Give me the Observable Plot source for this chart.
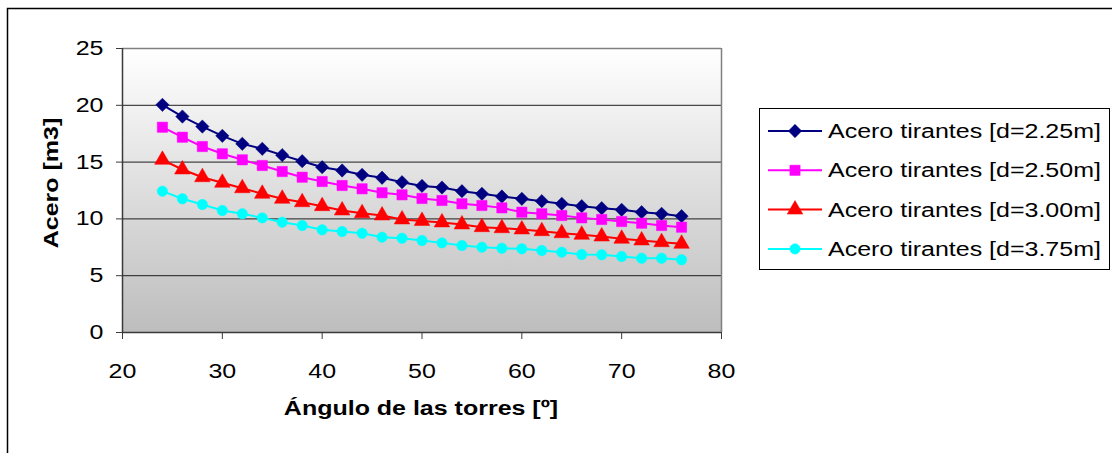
<!DOCTYPE html>
<html>
<head>
<meta charset="utf-8">
<script src="https://cdn.jsdelivr.net/npm/d3@7"></script>
<script src="https://cdn.jsdelivr.net/npm/@observablehq/plot@0.6"></script>
<style>
  body { margin: 0; background: #fff; }
  #chart svg { display: block; }
</style>
</head>
<body>
<div id="chart"></div>
<script>
// Tower angle (degrees) on the x axis
const angles = [24, 26, 28, 30, 32, 34, 36, 38, 40, 42, 44, 46, 48, 50,
                52, 54, 56, 58, 60, 62, 64, 66, 68, 70, 72, 74, 76];

// Stay-cable steel volume [m3] for each deck spacing d
const steelD225 = [20.04, 19.01, 18.13, 17.31, 16.61, 16.17, 15.61, 15.08, 14.55, 14.26, 13.88, 13.62, 13.23, 12.90,
                   12.76, 12.44, 12.21, 11.97, 11.77, 11.56, 11.33, 11.12, 10.94, 10.80, 10.59, 10.45, 10.24];
const steelD250 = [18.07, 17.19, 16.37, 15.73, 15.20, 14.70, 14.17, 13.67, 13.29, 12.94, 12.65, 12.30, 12.12, 11.80,
                   11.62, 11.33, 11.18, 10.97, 10.59, 10.45, 10.30, 10.09, 9.95, 9.77, 9.62, 9.42, 9.27];
const steelD300 = [15.20, 14.35, 13.67, 13.18, 12.70, 12.21, 11.77, 11.47, 11.12, 10.74, 10.50, 10.30, 9.95, 9.82,
                   9.69, 9.51, 9.27, 9.18, 9.07, 8.92, 8.74, 8.60, 8.45, 8.25, 8.10, 7.95, 7.81];
const steelD375 = [12.44, 11.77, 11.27, 10.74, 10.45, 10.09, 9.71, 9.42, 9.04, 8.89, 8.74, 8.39, 8.30, 8.10,
                   7.89, 7.66, 7.51, 7.42, 7.37, 7.22, 7.07, 6.87, 6.84, 6.69, 6.54, 6.54, 6.40];

const seriesNames = ["Acero tirantes [d=2.25m]", "Acero tirantes [d=2.50m]",
                     "Acero tirantes [d=3.00m]", "Acero tirantes [d=3.75m]"];
const seriesValues = [steelD225, steelD250, steelD300, steelD375];

const xTicks = [20, 30, 40, 50, 60, 70, 80];
const yTicks = [0, 5, 10, 15, 20, 25];
const gridY = [5, 10, 15, 20];

const xTitle = "Ángulo de las torres [º]";
const yTitle = "Acero [m3]";

// Styling for each series
const colors = ["#000080", "#ff00ff", "#ff0000", "#00ffff"];
const symbols = ["diamond2", "square", "triangle", "circle"];
const symbolR = [6, 5.8, 5.8, 5.2];
const d3Symbols = {diamond2: d3.symbolDiamond2, square: d3.symbolSquare, triangle: d3.symbolTriangle, circle: d3.symbolCircle};

// Long-format table built from the arrays above
const rows = seriesNames.flatMap((name, i) =>
  angles.map((a, j) => ({series: name, angle: a, steel: seriesValues[i][j]})));

const FONT = "'Liberation Sans', Arial, sans-serif";
const STRETCH = 1.25;

const seriesMarks = seriesNames.flatMap((name, i) => {
  const data = rows.filter(d => d.series === name);
  return [
    Plot.line(data, {x: "angle", y: "steel", stroke: colors[i], strokeWidth: 2}),
    Plot.dot(data, {x: "angle", y: "steel", symbol: symbols[i], r: symbolR[i],
                    fill: colors[i], stroke: colors[i], strokeWidth: 0.5})
  ];
});

const chart = Plot.plot({
  width: 1112,
  height: 453,
  marginLeft: 122,
  marginRight: 391,
  marginTop: 48,
  marginBottom: 121,
  style: {fontFamily: FONT, fontSize: "20px", color: "#000", background: "#fff", overflow: "visible"},
  x: {domain: [20, 80], label: null},
  y: {domain: [0, 25], label: null},
  marks: [
    Plot.frame({fill: "url(#plotBg)", stroke: null}),
    Plot.ruleY(gridY, {stroke: "#1e1e1e", strokeWidth: 1}),
    Plot.ruleY([25], {stroke: "#808080", strokeWidth: 1.5}),
    Plot.ruleX([80], {stroke: "#808080", strokeWidth: 1.5}),
    Plot.axisX({ticks: xTicks, tickSize: 7, tickPadding: 24, stroke: "#3a3a3a", fill: "#000", label: null, tickFormat: d => `${d}`}),
    Plot.axisY({ticks: yTicks, tickSize: 6, tickPadding: 13, stroke: "#3a3a3a", fill: "#000", label: null, tickFormat: d => `${d}`}),
    Plot.ruleX([20], {stroke: "#3a3a3a", strokeWidth: 1.5}),
    Plot.ruleY([0], {stroke: "#3a3a3a", strokeWidth: 1.5}),
    ...seriesMarks
  ]
});

document.getElementById("chart").appendChild(chart);
const svg = d3.select(chart);

// Widen the tick label glyphs horizontally
svg.selectAll("text").each(function () {
  const t = d3.select(this);
  let tr = t.attr("transform") || "";
  const x = t.attr("x");
  if (x != null && !String(x).includes("em")) { tr += ` translate(${x},0)`; t.attr("x", null); }
  t.attr("transform", `${tr} scale(${STRETCH},1)`);
});

// Vertical gradient for the plotting area
const grad = svg.insert("defs", ":first-child").append("linearGradient")
  .attr("id", "plotBg").attr("x1", 0).attr("y1", 0).attr("x2", 0).attr("y2", 1);
grad.append("stop").attr("offset", 0).attr("stop-color", "#ffffff");
grad.append("stop").attr("offset", 1).attr("stop-color", "#bdbdbd");

// Outer chart border (top and left edges)
svg.append("path")
  .attr("d", "M7.5,470V8.5H1130")
  .attr("fill", "none").attr("stroke", "#000").attr("stroke-width", 1.5);

// Axis titles
svg.append("text")
  .attr("transform", `translate(421,408) scale(${STRETCH},1)`)
  .attr("text-anchor", "middle").attr("dy", "0.35em")
  .attr("font-family", FONT).attr("font-size", 20).attr("font-weight", "bold")
  .text(xTitle);
svg.append("text")
  .attr("transform", `translate(51,183) rotate(-90) scale(${STRETCH},1)`)
  .attr("text-anchor", "middle").attr("dy", "0.35em")
  .attr("font-family", FONT).attr("font-size", 20).attr("font-weight", "bold")
  .text(yTitle);

// Legend
const legend = svg.append("g");
legend.append("rect")
  .attr("x", 759.5).attr("y", 108.5).attr("width", 350).attr("height", 161)
  .attr("fill", "#fff").attr("stroke", "#000").attr("stroke-width", 1);
seriesNames.forEach((name, i) => {
  const cy = 131 + i * 39.3;
  legend.append("line")
    .attr("x1", 768).attr("x2", 822).attr("y1", cy).attr("y2", cy)
    .attr("stroke", colors[i]).attr("stroke-width", 2);
  legend.append("path")
    .attr("d", d3.symbol(d3Symbols[symbols[i]], Math.PI * symbolR[i] * symbolR[i])())
    .attr("transform", `translate(795,${cy})`)
    .attr("fill", colors[i]).attr("stroke", colors[i]).attr("stroke-width", 0.5);
  legend.append("text")
    .attr("transform", `translate(828,${cy}) scale(${STRETCH},1)`)
    .attr("text-anchor", "start").attr("dy", "0.35em")
    .attr("font-family", FONT).attr("font-size", 20).attr("fill", "#000")
    .text(name);
});
</script>
</body>
</html>
